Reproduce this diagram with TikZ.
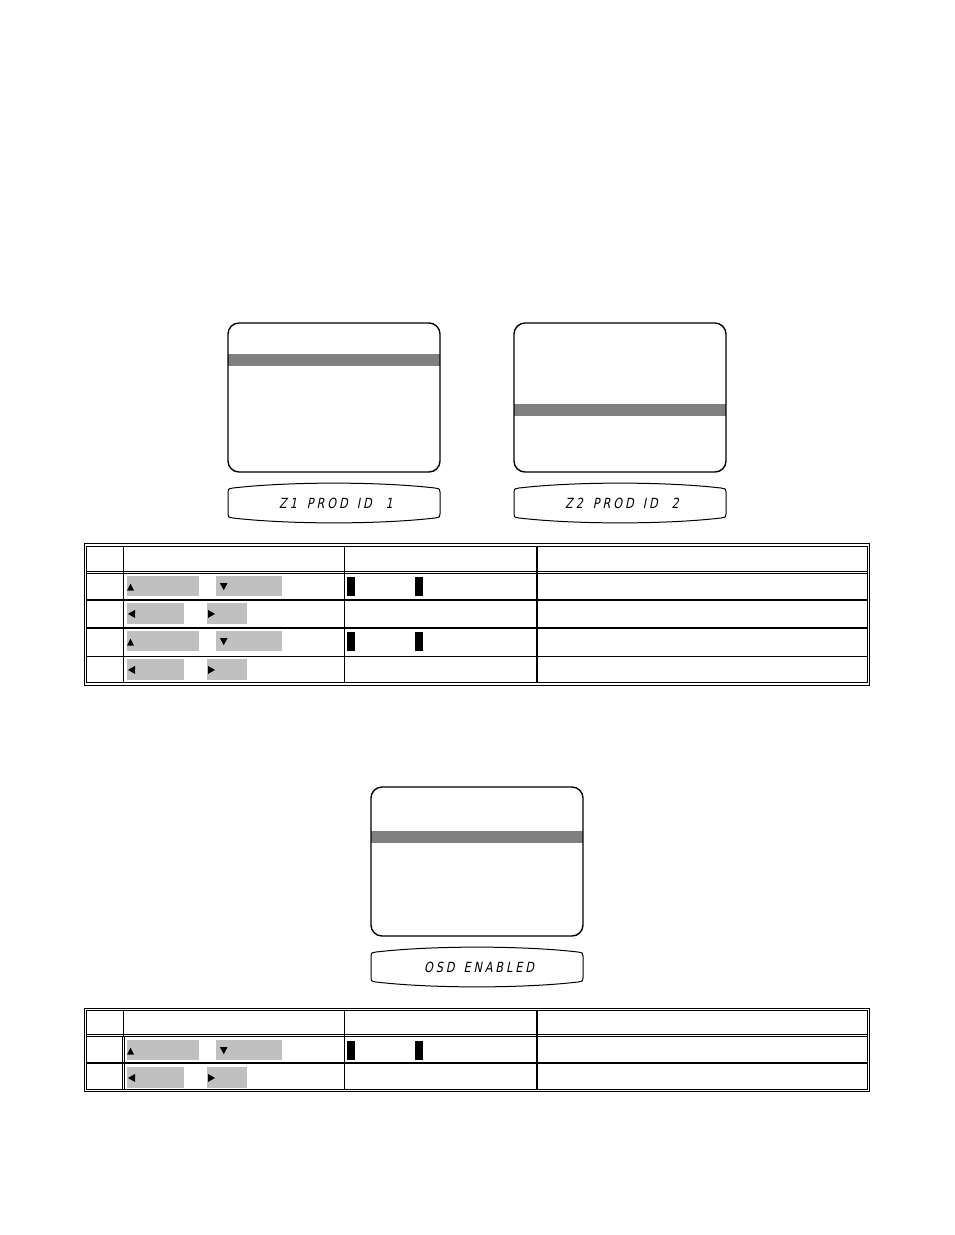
\documentclass[tikz,border=0pt]{standalone}
\usepackage{fontspec}
\usepackage{tikz}
\usetikzlibrary{calc,positioning}
\newfontfamily\lcdfont[FakeSlant=0.2,FakeStretch=0.8,LetterSpace=21]{DejaVu Sans}
\definecolor{barGray}{RGB}{128,128,128}
\definecolor{btnGray}{RGB}{192,192,192}
\tikzset{
	screen/.style={draw,line width=1.4pt,rounded corners=11pt},
	hilite/.style={fill=barGray},
	lcd/.style={draw,line width=1pt},
	lcdtext/.style={font=\lcdfont\fontsize{14}{14}\selectfont,inner sep=0pt},
	btn/.style={fill=btnGray,inner sep=0pt,anchor=north west},
	tip/.style={fill=black},
	bar/.style={fill=black,inner sep=0pt,anchor=north west,minimum width=8,minimum height=19},
	rule/.style={line width=0.8pt},
	thick rule/.style={line width=2pt}
}

\begin{document}
\begin{tikzpicture}[x=1pt,y=-1pt]
	\useasboundingbox (0,0) rectangle (954,1235);

	% screens
	\foreach \sx/\sy/\by [count=\i] in {228/323/354, 514/323/404, 371/787/831}{
		\fill[hilite] (\sx,\by) rectangle ($(\sx,\by)+(212,12)$);
		\draw[screen] (\sx,\sy) rectangle ($(\sx,\sy)+(212,149)$);
	}

	% front panel displays
	\foreach \cx/\cy/\txt [count=\i] in {334/503/{Z1\kern10pt PROD\kern9pt ID\kern14pt 1},
			620/503/{Z2\kern10pt PROD\kern9pt ID\kern14pt 2}, 477/967/{OSD\kern9pt ENABLED}}{
		\begin{scope}[shift={(\cx,\cy)}]
			\coordinate (L\i) at (0,0);
			\draw[lcd] (-106,-11) -- (-106,11) .. controls (-106,14) .. (-101,15)
				.. controls (-45,21.5) and (45,21.5) .. (101,15) .. controls (106,14) .. (106,11)
				-- (106,-11) .. controls (106,-14) .. (101,-15)
				.. controls (45,-21.5) and (-45,-21.5) .. (-101,-15) .. controls (-106,-14) .. cycle;
			\node[lcdtext] (lcd\i) at ($(L\i)+(2,0)$) {\txt};
		\end{scope}
	}

	% table 1
	\draw[rule] (84,543.7) rectangle (869.8,685);
	\draw[rule] (86.3,546) rectangle (867.5,682.7);
	\draw[rule] (86,571) -- (868,571);
	\draw[rule] (86,573.4) -- (868,573.4);
	\draw[thick rule] (86,600) -- (868,600);
	\draw[thick rule] (86,628) -- (868,628);
	\draw[rule] (86,656) -- (868,656);
	\draw[rule] (123,546) -- (123,683);
	\draw[rule] (344,546) -- (344,683);
	\draw[thick rule] (537,546) -- (537,683);

	% table 2
	\draw[rule] (84,1008) rectangle (869.8,1091.7);
	\draw[rule] (86.3,1010.3) rectangle (867.5,1089.4);
	\draw[rule] (86,1034.3) -- (868,1034.3);
	\draw[rule] (86,1036.7) -- (868,1036.7);
	\draw[thick rule] (86,1063) -- (868,1063);
	\draw[rule] (123,1010) -- (123,1036);
	\draw[rule] (122.3,1036) -- (122.3,1090);
	\draw[rule] (124.7,1036) -- (124.7,1090);
	\draw[rule] (344,1010) -- (344,1090);
	\draw[thick rule] (537,1010) -- (537,1090);

	% up / down rows
	\foreach \ry [count=\i] in {573,628,1037}{
		\node[btn,minimum width=72,minimum height=20] (up\i) at (126.5,\ry+3) {};
		\node[btn,minimum width=66,minimum height=20] (dn\i) at (216,\ry+3) {};
		\fill[tip] ($(up\i.west)+(0.5,4.5)$) -- ++(7,0) -- ++(-3.5,-7) -- cycle;
		\fill[tip] ($(dn\i.west)+(4,-3)$) -- ++(7.5,0) -- ++(-3.75,7) -- cycle;
		\node[bar] (bA\i) at (347,\ry+4) {};
		\node[bar] (bB\i) at (415,\ry+4) {};
	}

	% left / right rows
	\foreach \ry [count=\i] in {600,656,1064}{
		\node[btn,minimum width=57.5,minimum height=21.5] (lt\i) at (126.5,\ry+2.5) {};
		\node[btn,minimum width=40,minimum height=21.5] (rt\i) at (207,\ry+2.5) {};
		\fill[tip] ($(lt\i.west)+(1.5,0.5)$) -- ++(7,-4) -- ++(0,8) -- cycle;
		\fill[tip] ($(rt\i.west)+(1,-3.5)$) -- ++(0,8) -- ++(7,-4) -- cycle;
	}
\end{tikzpicture}
\end{document}
